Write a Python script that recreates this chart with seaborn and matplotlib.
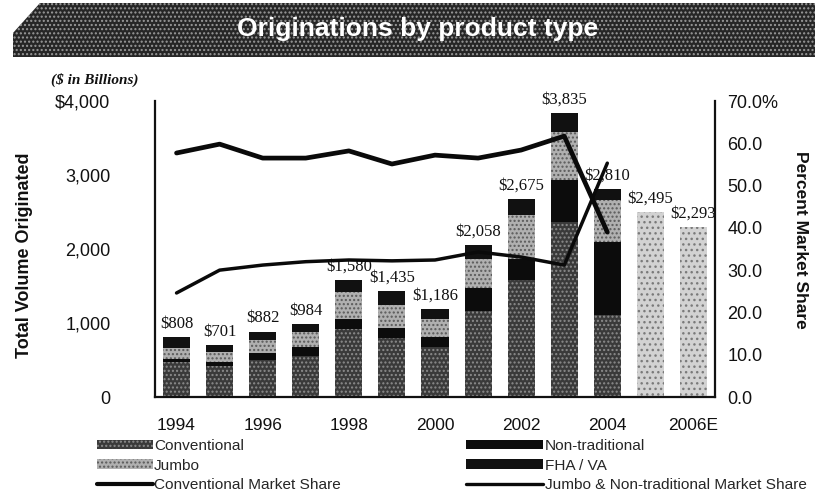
import matplotlib
matplotlib.use("Agg")
import matplotlib.pyplot as plt
import seaborn as sns
import numpy as np
import pandas as pd
from matplotlib.patches import Patch, Polygon
from matplotlib.lines import Line2D

# ---------------- data ----------------
years = ["1994", "1995", "1996", "1997", "1998", "1999", "2000",
         "2001", "2002", "2003", "2004", "2005", "2006E"]
tick_labels = ["1994", "", "1996", "", "1998", "", "2000",
               "", "2002", "", "2004", "", "2006E"]
totals = [808, 701, 882, 984, 1580, 1435, 1186, 2058, 2675, 3835, 2810, 2495, 2293]
actual_years = years[:11]
forecast_years = years[11:]
conventional = [469, 419, 498, 556, 920, 791, 678, 1163, 1575, 2366, 1108]
non_traditional = [40, 60, 95, 116, 134, 137, 129, 306, 295, 566, 990]
jumbo = [159, 135, 180, 200, 369, 315, 247, 400, 590, 653, 565]
fha_va = [140, 87, 109, 112, 157, 192, 132, 189, 215, 250, 147]
conv_share = [57.7, 59.8, 56.5, 56.5, 58.2, 55.1, 57.2, 56.5, 58.4, 61.7, 39.0]
jnt_share = [24.6, 30.0, 31.2, 32.0, 32.4, 32.2, 32.4, 34.3, 33.1, 31.2, 55.3]
left_ticks = [0, 1000, 2000, 3000, 4000]
left_tick_labels = ["0", "1,000", "2,000", "3,000", "$4,000"]
right_ticks = [0, 10, 20, 30, 40, 50, 60, 70]
right_tick_labels = ["0.0", "10.0", "20.0", "30.0", "40.0", "50.0", "60.0", "70.0%"]

# ---------------- style ----------------
sns.set_theme(style="white")
plt.rcParams["font.family"] = ["Liberation Sans", "DejaVu Sans"]
plt.rcParams["hatch.linewidth"] = 1.0

C_CONV = "#3a3a3a"
C_CONV_DOT = "#8c8c8c"
C_NT = "#0c0c0c"
C_JUMBO = "#b0b0b0"
C_JUMBO_DOT = "#5a5a5a"
C_FHA = "#111111"
C_FCST = "#d2d2d2"
C_FCST_DOT = "#7a7a7a"

W, H = 815, 497
fig = plt.figure(figsize=(W / 100, H / 100), dpi=100)
fig.patch.set_facecolor("white")

# banner
banner = Polygon([(40 / W, 1 - 3 / H), (1.0, 1 - 3 / H), (1.0, 1 - 57 / H),
                  (13 / W, 1 - 57 / H), (13 / W, 1 - 33 / H)],
                 closed=True, transform=fig.transFigure,
                 facecolor="#262626", edgecolor="#9a9a9a", hatch="....",
                 linewidth=0, zorder=0)
fig.patches.append(banner)
fig.text(418 / W, 1 - 29 / H, "Originations by product type", color="white",
         fontsize=19, fontweight="bold", ha="center", va="center")

ax = fig.add_axes([155 / W, 1 - 397 / H, 560 / W, 296 / H])

# cumulative layers (drawn from tallest to shortest)
cum_jumbo = [c + n + j for c, n, j in zip(conventional, non_traditional, jumbo)]
cum_nt = [c + n for c, n in zip(conventional, non_traditional)]

bar_kw = dict(order=years, width=0.63, saturation=1, linewidth=0, ax=ax)
# top segment (FHA / VA) for actual years
sns.barplot(x=actual_years, y=totals[:11], color=C_FHA, **bar_kw)
# forecast totals
sns.barplot(x=forecast_years, y=totals[11:], color=C_FCST,
            hatch="...", edgecolor=C_FCST_DOT, **bar_kw)
sns.barplot(x=actual_years, y=cum_jumbo, color=C_JUMBO,
            hatch="....", edgecolor=C_JUMBO_DOT, **bar_kw)
sns.barplot(x=actual_years, y=cum_nt, color=C_NT, **bar_kw)
sns.barplot(x=actual_years, y=conventional, color=C_CONV,
            hatch="....", edgecolor=C_CONV_DOT, **bar_kw)

for i, v in enumerate(totals):
    ax.annotate(f"${v:,}", (i, v), xytext=(0, 4), textcoords="offset points",
                ha="center", va="bottom", fontsize=12,
                family=["Liberation Serif", "DejaVu Serif"], color="#111111")

ax.set_xlim(-0.5, 12.5)
ax.set_ylim(0, 4000)
ax.set_yticks(left_ticks)
ax.set_yticklabels(left_tick_labels)
ax.set_xticks(range(len(years)))
ax.set_xticklabels(tick_labels)
ax.tick_params(axis="x", length=0, pad=15, labelsize=12.5, colors="#111111")
ax.tick_params(axis="y", length=0, pad=32, labelsize=13, colors="#111111")
ax.set_xlabel("")
ax.set_ylabel("")
for s in ["left", "bottom"]:
    ax.spines[s].set_color("#111111")
    ax.spines[s].set_linewidth(1.6)
ax.spines["top"].set_visible(False)
ax.spines["right"].set_visible(False)

ax2 = ax.twinx()
xs = list(range(len(conv_share)))
sns.lineplot(x=xs, y=conv_share, color="#0a0a0a", linewidth=3.4, ax=ax2)
sns.lineplot(x=xs, y=jnt_share, color="#0a0a0a", linewidth=2.5, ax=ax2)
ax2.set_ylim(0, 70)
ax2.set_yticks(right_ticks)
ax2.set_yticklabels(right_tick_labels)
ax2.tick_params(axis="y", length=0, pad=9, labelsize=13, colors="#111111")
ax2.set_ylabel("")
ax2.spines["top"].set_visible(False)
ax2.spines["left"].set_visible(False)
ax2.spines["bottom"].set_visible(False)
ax2.spines["right"].set_color("#111111")
ax2.spines["right"].set_linewidth(1.6)
ax.set_zorder(1)
ax2.set_zorder(2)
ax2.patch.set_visible(False)

fig.text(25 / W, 1 - 255 / H, "Total Volume Originated", rotation=90,
         fontsize=13, fontweight="bold", ha="center", va="center", color="#111111")
fig.text(800 / W, 1 - 240 / H, "Percent Market Share", rotation=-90,
         fontsize=12.5, fontweight="bold", ha="center", va="center", color="#111111")
fig.text(95 / W, 1 - 80 / H, "($ in Billions)", fontsize=11, style="italic",
         fontweight="bold", family=["Liberation Serif", "DejaVu Serif"],
         ha="center", va="center", color="#111111")

# legends
left_handles = [Patch(facecolor=C_CONV, edgecolor=C_CONV_DOT, hatch="....", linewidth=0),
                Patch(facecolor=C_JUMBO, edgecolor=C_JUMBO_DOT, hatch="....", linewidth=0),
                Line2D([0], [0], color="#0a0a0a", linewidth=3)]
left_labels = ["Conventional", "Jumbo", "Conventional Market Share"]
right_handles = [Patch(facecolor=C_NT, linewidth=0),
                 Patch(facecolor=C_FHA, linewidth=0),
                 Line2D([0], [0], color="#0a0a0a", linewidth=2.4)]
right_labels = ["Non-traditional", "FHA / VA", "Jumbo & Non-traditional Market Share"]

common = dict(loc="upper left", frameon=False, fontsize=11.1, handleheight=0.6,
              handletextpad=0.1, labelspacing=0.36, borderpad=0, borderaxespad=0)
fig.legend(left_handles, left_labels, bbox_to_anchor=(97 / W, 1 - 439 / H),
           handlelength=3.6, **common)
fig.legend(right_handles, right_labels, bbox_to_anchor=(466 / W, 1 - 439 / H),
           handlelength=5.0, **common)

fig.savefig("out.png", dpi=100)
